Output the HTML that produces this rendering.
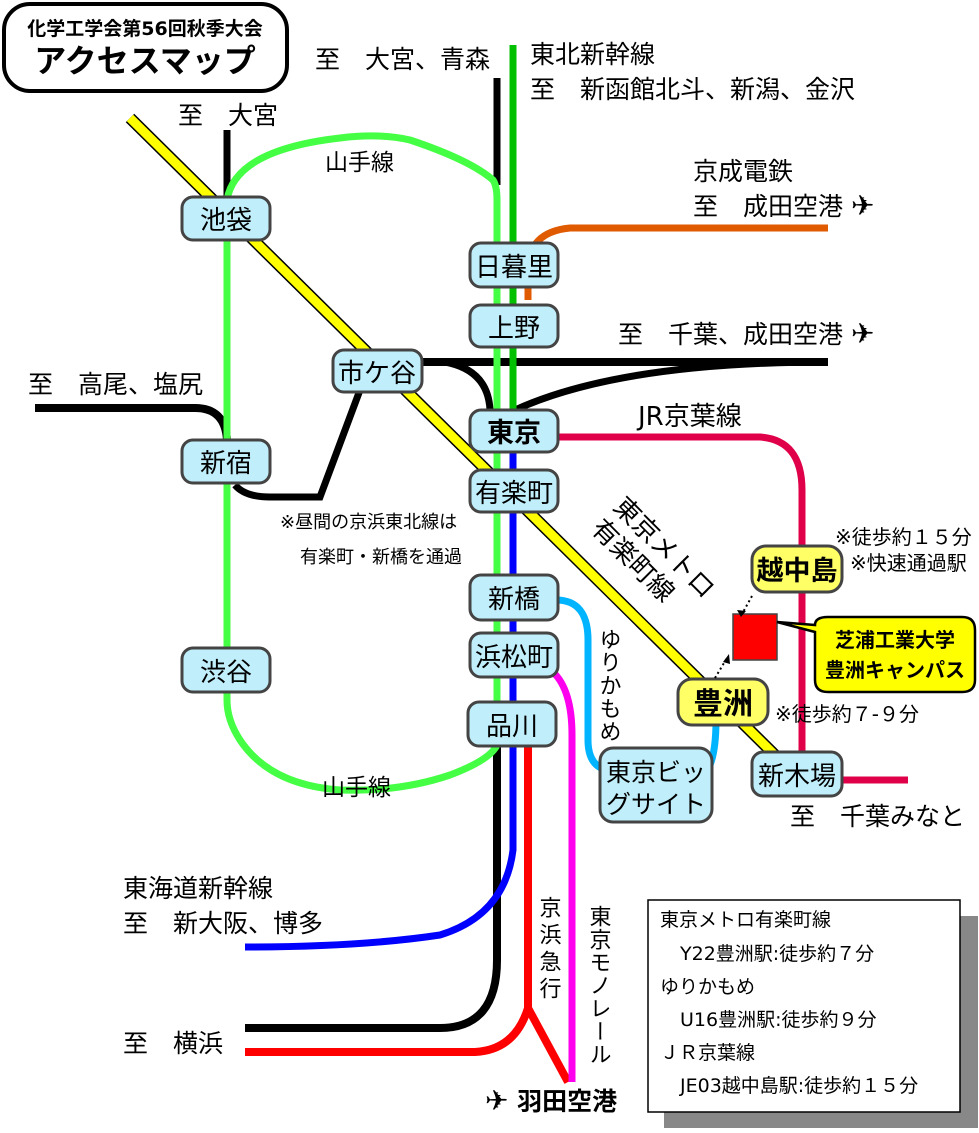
<!DOCTYPE html>
<html><head><meta charset="utf-8"><style>
body{margin:0;background:#fff;}
svg text{font-family:"DejaVu Sans","Noto Sans CJK JP",sans-serif;}
</style></head><body>
<svg width="979" height="1128" viewBox="0 0 979 1128" xmlns="http://www.w3.org/2000/svg">
<rect x="0" y="0" width="979" height="1128" fill="#fff"/>
<rect x="4" y="4" width="283" height="87" rx="26" fill="#fff" stroke="#000" stroke-width="4"/>
<text x="145" y="35" font-size="19" font-weight="bold" text-anchor="middle">化学工学会第56回秋季大会</text>
<text x="145" y="72" font-size="32" font-weight="bold" text-anchor="middle">アクセスマップ</text>

<g fill="none" stroke-linecap="butt">
<line x1="130" y1="118" x2="790" y2="770" stroke="#000" stroke-width="12"/>
<line x1="130" y1="118" x2="790" y2="770" stroke="#ffff00" stroke-width="9"/>
<path d="M497 78 V185" stroke="#000" stroke-width="7"/>
<path d="M227 130 V200" stroke="#000" stroke-width="7"/>
<path d="M390 362 H828" stroke="#000" stroke-width="8"/>
<path d="M445 362 Q488 370 490 410" stroke="#000" stroke-width="7"/>
<path d="M828 362 Q620 362 515 410" stroke="#000" stroke-width="7"/>
<path d="M35 408 H195 Q225 408 227 440" stroke="#000" stroke-width="8"/>
<path d="M235 485 Q245 497 270 497 H320 L360 390" stroke="#000" stroke-width="7"/>
<path d="M497 745 V960 Q497 1028 440 1028 H245" stroke="#000" stroke-width="8"/>
<path d="M513 45 V430" stroke="#00c000" stroke-width="7"/>
<path d="M227 200 Q235 150 340 138 Q380 133 410 140 Q470 160 493 180 Q497 186 497 200 V745 Q490 760 450 775 Q400 792 340 790 Q270 785 240 740 Q227 720 227 700 Z" stroke="#44ff44" stroke-width="7"/>
<path d="M828 228 H570 Q528 232 528 270 V300" stroke="#e05a00" stroke-width="7"/>
<path d="M558 437 H760 Q802 440 802 490 V755" stroke="#e0004a" stroke-width="7"/>
<path d="M840 780 H908" stroke="#e0004a" stroke-width="7"/>
<path d="M513 452 V850 Q505 915 440 935 Q360 947 245 947" stroke="#0000ff" stroke-width="7"/>
<path d="M528 745 V1008 Q515 1050 475 1052 H245" stroke="#ff0000" stroke-width="8"/>
<path d="M528 1008 L568 1082" stroke="#ff0000" stroke-width="8"/>
<path d="M553 672 Q572 690 572 735 V1082" stroke="#ff00ee" stroke-width="7"/>
<path d="M556 600 Q588 600 588 640 V740 Q588 765 606 770" stroke="#00b4ff" stroke-width="7"/>
<path d="M710 765 Q716 750 716 720" stroke="#00b4ff" stroke-width="7"/>
</g>

<g stroke="#444" stroke-width="3" fill="#c0eefa">
<rect x="182" y="197" width="88" height="43" rx="11"/>
<rect x="470" y="243" width="88" height="44" rx="11"/>
<rect x="470" y="305" width="88" height="42" rx="11"/>
<rect x="333" y="350" width="89" height="42" rx="11"/>
<rect x="470" y="410" width="88" height="42" rx="11"/>
<rect x="470" y="470" width="88" height="42" rx="11"/>
<rect x="182" y="440" width="88" height="43" rx="11"/>
<rect x="470" y="575" width="88" height="45" rx="11"/>
<rect x="470" y="633" width="88" height="44" rx="11"/>
<rect x="468" y="702" width="88" height="44" rx="11"/>
<rect x="182" y="648" width="88" height="44" rx="11"/>
<rect x="600" y="748" width="112" height="74" rx="13"/>
<rect x="752" y="752" width="90" height="44" rx="11"/>
</g>
<g stroke="#444" stroke-width="3" fill="#ffff66">
<rect x="752" y="546" width="90" height="46" rx="14"/>
<rect x="678" y="679" width="90" height="46" rx="14"/>
</g>
<g font-size="26" text-anchor="middle">
<text x="226" y="229">池袋</text>
<text x="514" y="276">日暮里</text>
<text x="514" y="337">上野</text>
<text x="377" y="382">市ケ谷</text>
<text x="514" y="442" font-weight="bold" font-size="27">東京</text>
<text x="514" y="502">有楽町</text>
<text x="226" y="472">新宿</text>
<text x="514" y="608">新橋</text>
<text x="514" y="666">浜松町</text>
<text x="512" y="735">品川</text>
<text x="226" y="681">渋谷</text>
<text x="656" y="781" font-size="25">東京ビッ</text>
<text x="656" y="813" font-size="25">グサイト</text>
<text x="797" y="785">新木場</text>
<text x="797" y="580" font-weight="bold" font-size="27">越中島</text>
<text x="723" y="714" font-weight="bold" font-size="30">豊洲</text>
</g>

<rect x="733" y="614" width="44" height="46" fill="#ff0000" stroke="#444" stroke-width="1.5"/>
<path d="M777 622 L815 632 L815 680 Q815 692 828 692 H962 Q975 692 975 680 V630 Q975 617 962 617 H828 Q815 617 815 625 Z" fill="#ffff00" stroke="#000" stroke-width="2.5"/>
<text x="895" y="647" font-size="20" font-weight="bold" text-anchor="middle">芝浦工業大学</text>
<text x="895" y="677" font-size="20" font-weight="bold" text-anchor="middle">豊洲キャンパス</text>
<path d="M752 596 L742 614" stroke="#000" stroke-width="2" stroke-dasharray="2,3"/>
<path d="M737 610 L741 617 L746 611 Z" fill="#000"/>
<path d="M715 678 L727 658" stroke="#000" stroke-width="2" stroke-dasharray="2,3"/>
<path d="M723 662 L729 654 L730 664 Z" fill="#000"/>

<g font-size="25">
<text x="315" y="68">至　大宮、青森</text>
<text x="530" y="63">東北新幹線</text>
<text x="530" y="98">至　新函館北斗、新潟、金沢</text>
<text x="178" y="124">至　大宮</text>
<text x="325" y="170" font-size="23">山手線</text>
<text x="693" y="180">京成電鉄</text>
<text x="693" y="215">至　成田空港 <tspan font-size="28">✈</tspan></text>
<text x="618" y="343">至　千葉、成田空港 <tspan font-size="28">✈</tspan></text>
<text x="28" y="393">至　高尾、塩尻</text>
<text x="638" y="425" font-size="26">JR京葉線</text>
<text x="322" y="795" font-size="23">山手線</text>
<text x="123" y="897">東海道新幹線</text>
<text x="123" y="932">至　新大阪、博多</text>
<text x="123" y="1052">至　横浜</text>
<text x="790" y="825">至　千葉みなと</text>
<text x="485" y="1110" font-weight="bold" font-size="25"><tspan font-size="28">✈</tspan> 羽田空港</text>
</g>
<g font-size="20">
<text x="280" y="528" font-size="18">※昼間の京浜東北線は</text>
<text x="300" y="563" font-size="18">有楽町・新橋を通過</text>
<text x="835" y="544">※徒歩約１５分</text>
<text x="850" y="570">※快速通過駅</text>
<text x="775" y="721">※徒歩約７-９分</text>
</g>
<g font-size="22">
<text transform="translate(612,508) rotate(45)" font-size="26">東京メトロ</text>
<text transform="translate(590,530) rotate(45)" font-size="26">有楽町線</text>
<text x="608" y="628" style="writing-mode:vertical-rl" letter-spacing="1">ゆりかもめ</text>
<text x="548" y="896" style="writing-mode:vertical-rl" letter-spacing="5">京浜急行</text>
<text x="598" y="905" style="writing-mode:vertical-rl" letter-spacing="1">東京モノレール</text>
</g>

<rect x="664" y="916" width="314" height="212" fill="#888"/>
<rect x="648" y="900" width="312" height="212" fill="#fff" stroke="#000" stroke-width="1.5"/>
<g font-size="19">
<text x="660" y="926">東京メトロ有楽町線</text>
<text x="680" y="960">Y22豊洲駅:徒歩約７分</text>
<text x="660" y="993">ゆりかもめ</text>
<text x="680" y="1026">U16豊洲駅:徒歩約９分</text>
<text x="660" y="1059">ＪＲ京葉線</text>
<text x="680" y="1092">JE03越中島駅:徒歩約１５分</text>
</g>
</svg>
</body></html>
